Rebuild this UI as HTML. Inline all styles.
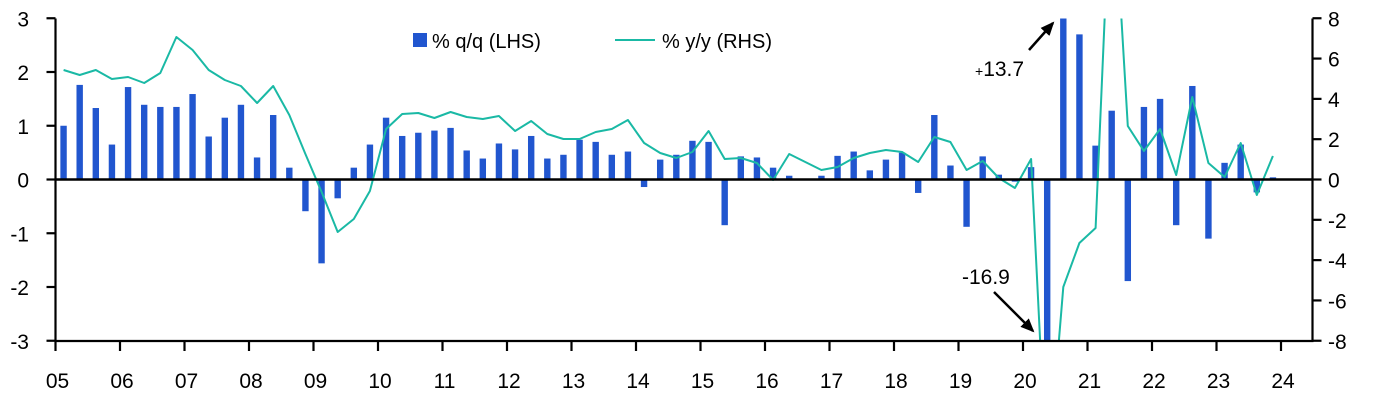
<!DOCTYPE html>
<html><head><meta charset="utf-8">
<style>
html,body{margin:0;padding:0;background:#fff;width:1373px;height:401px;overflow:hidden;}
svg{display:block;font-family:"Liberation Sans",sans-serif;}
</style></head>
<body>
<svg id="c" width="1373" height="401" viewBox="0 0 1373 401" xmlns="http://www.w3.org/2000/svg">
<defs><clipPath id="pc"><rect x="56" y="18.5" width="1256" height="322.5"/></clipPath>
<marker id="ah2" markerWidth="14" markerHeight="12" refX="12" refY="6" orient="auto" markerUnits="userSpaceOnUse"><path d="M0,0 L14,6 L0,12 z" fill="#000"/></marker>
</defs>
<g id="bars" clip-path="url(#pc)"></g>
<g id="line" clip-path="url(#pc)"></g>
<g id="axes" stroke="#000" stroke-width="2.2" fill="none"></g>
<g id="labels" font-size="21" fill="#000"></g>
<rect x="413" y="33" width="14" height="14" fill="#2156cf"/>
<text x="432" y="48" font-size="20">% q/q (LHS)</text>
<line x1="615" y1="40" x2="655" y2="40" stroke="#1ab9a5" stroke-width="2"/>
<text x="662" y="48" font-size="20">% y/y (RHS)</text>
<text x="975" y="76" font-size="21"><tspan font-size="14">+</tspan>13.7</text>
<line x1="1029" y1="50" x2="1053" y2="23" stroke="#000" stroke-width="2.5" marker-end="url(#ah2)"/>
<text x="962" y="284" font-size="21">-16.9</text>
<line x1="994" y1="292" x2="1033" y2="331" stroke="#000" stroke-width="2.5" marker-end="url(#ah2)"/>
</svg>
<script>
var NS="http://www.w3.org/2000/svg";
function el(p,t,a,txt){var e=document.createElementNS(NS,t);for(var k in a)e.setAttribute(k,a[k]);if(txt!=null)e.textContent=txt;p.appendChild(e);return e;}
var L=55.5,R=1312.5,T=18.5,B=341,Z=179.5,U=53.75,Q=16.125;
var q=[1.0,1.76,1.33,0.65,1.72,1.39,1.35,1.35,1.59,0.8,1.15,1.39,0.41,1.2,0.22,-0.59,-1.56,-0.35,0.22,0.65,
1.15,0.81,0.87,0.91,0.96,0.54,0.39,0.67,0.56,0.81,0.39,0.46,0.74,0.70,0.46,0.52,-0.14,0.37,0.46,0.72,
0.70,-0.85,0.43,0.41,0.22,0.07,0,0.07,0.44,0.52,0.17,0.37,0.5,-0.25,1.2,0.26,-0.88,0.43,0.09,-0.04,
0.23,-16.9,13.7,2.70,0.63,1.28,-1.89,1.35,1.50,-0.85,1.74,-1.1,0.31,0.65,-0.24,0.04];
var ly=[70,75,70,79,77,83,73,37,50,70,80,86,103,86,115,154,192,232,219,191,
129,114,113,118,112,117,119,116,131,121,134,139,139,132,129,120,143,153,158,152,
131,159,158,163,180,154,162,170,167,158,153,150,152,162,137,142,170,161,178,188,
159,483,287,243,228,-145,126,151,129,175,97,163,177,143,195,156];
var bg=document.getElementById('bars');
q.forEach(function(v,i){var cx=L+(i+0.5)*Q;var y=Z-v*U;var top=Math.min(y,Z),h=Math.abs(y-Z);
el(bg,'rect',{x:cx-3.2,y:top,width:6.4,height:h,fill:'#2156cf'});});
var pts=ly.map(function(y,i){return (L+(i+0.5)*Q).toFixed(1)+','+y;}).join(' ');
el(document.getElementById('line'),'polyline',{points:pts,fill:'none',stroke:'#1ab9a5','stroke-width':2,'stroke-linejoin':'round'});
var ax=document.getElementById('axes');
el(ax,'line',{x1:L,y1:T,x2:L,y2:B});
el(ax,'line',{x1:R,y1:T,x2:R,y2:B});
el(ax,'line',{x1:L-1,y1:B,x2:R+1,y2:B});
el(ax,'line',{x1:L,y1:Z,x2:R,y2:Z,'stroke-width':2.6});
var lb=document.getElementById('labels');
for(var v=3;v>=-3;v--){var y=Z-v*U;el(ax,'line',{x1:L-9,y1:y,x2:L,y2:y});
el(lb,'text',{x:29,y:y+8,'text-anchor':'end'},String(v));}
for(var v=8;v>=-8;v-=2){var y=Z-v*(161.25/8);el(ax,'line',{x1:R,y1:y,x2:R+9,y2:y});
el(lb,'text',{x:1328,y:y+8},String(v));}
for(var k=0;k<=19;k++){var x=L+k*64.5;el(ax,'line',{x1:x,y1:B,x2:x,y2:B+10});
var s=String(5+k);if(s.length<2)s='0'+s;el(lb,'text',{x:x+2,y:388,'text-anchor':'middle'},s);}
</script>
</body></html>
